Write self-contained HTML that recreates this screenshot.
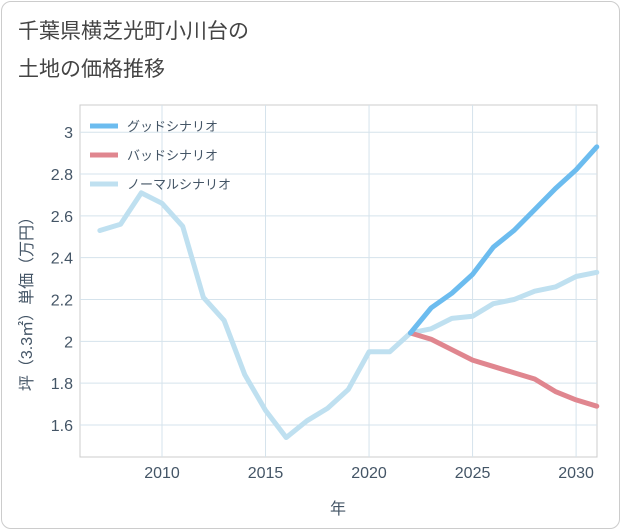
<!DOCTYPE html>
<html><head><meta charset="utf-8">
<style>
body{margin:0;background:#fff;font-family:"Liberation Sans","Noto Sans CJK JP",sans-serif;}
#card{position:absolute;left:1px;top:1px;width:617px;height:526px;border:1px solid #ccc;border-radius:10px;background:#fff;}
</style></head><body>
<div id="card"></div>
<svg id="chart" width="621" height="530" style="position:absolute;left:0;top:0">
<text x="18" y="38" font-size="21" fill="#444">千葉県横芝光町小川台の</text>
<text x="18" y="76" font-size="21" fill="#444">土地の価格推移</text>
</svg>
<script>
const years=[2007,2008,2009,2010,2011,2012,2013,2014,2015,2016,2017,2018,2019,2020,2021,2022,2023,2024,2025,2026,2027,2028,2029,2030,2031];
const normal=[2.53,2.56,2.71,2.66,2.55,2.21,2.10,1.84,1.67,1.54,1.62,1.68,1.77,1.95,1.95,2.04,2.06,2.11,2.12,2.18,2.20,2.24,2.26,2.31,2.33];
const goodYears=[2022,2023,2024,2025,2026,2027,2028,2029,2030,2031];
const good=[2.04,2.16,2.23,2.32,2.45,2.53,2.63,2.73,2.82,2.93];
const bad=[2.04,2.01,1.96,1.91,1.88,1.85,1.82,1.76,1.72,1.69];
const xTicks=[2010,2015,2020,2025,2030];
const yTicks=[1.6,1.8,2,2.2,2.4,2.6,2.8,3];
const L=80,R=597,T=105,B=457;
const x0=2006.04,x1=2031.01,y0=1.447,y1=3.13;
const X=v=>L+(v-x0)/(x1-x0)*(R-L);
const Y=v=>B-(v-y0)/(y1-y0)*(B-T);
const svg=document.getElementById('chart');const NS='http://www.w3.org/2000/svg';
function mk(t,a,p){const e=document.createElementNS(NS,t);for(const k in a)e.setAttribute(k,a[k]);(p||svg).appendChild(e);return e;}
const bg=mk('rect',{x:L,y:T,width:R-L,height:B-T,fill:'#fff',stroke:'#ccc'});


xTicks.forEach(t=>{const g=mk('line',{x1:X(t),x2:X(t),y1:T,y2:B,stroke:'#d5e3ec'});


const l=mk('text',{x:X(t),y:478,'font-size':16,fill:'#456','text-anchor':'middle'});l.textContent=t;

});
yTicks.forEach(t=>{const g=mk('line',{x1:L,x2:R,y1:Y(t),y2:Y(t),stroke:'#d5e3ec'});


const l=mk('text',{x:73,y:Y(t)+6,'font-size':16,fill:'#456','text-anchor':'end'});l.textContent=String(t);

});
function line(xs,ys,c,n){const p=mk('polyline',{points:xs.map((v,i)=>X(v)+','+Y(ys[i])).join(' '),fill:'none',stroke:c,'stroke-width':5,'stroke-linejoin':'round','stroke-linecap':'round'});

}
line(years,normal,'#bfe0f0','normal-scenario-line');
line(goodYears,bad,'#e0868f','bad-scenario-line');
line(goodYears,good,'#6cbcef','good-scenario-line');
const leg=[['グッドシナリオ','#6cbcef'],['バッドシナリオ','#e0868f'],['ノーマルシナリオ','#bfe0f0']];
leg.forEach((d,i)=>{const y=126+i*29;const g=mk('g',{});


mk('line',{x1:90,x2:118,y1:y,y2:y,stroke:d[1],'stroke-width':5},g);
const t=mk('text',{x:127,y:y+5,'font-size':13,fill:'#456'},g);t.textContent=d[0];});
const xt=mk('text',{x:338,y:514,'font-size':16,fill:'#456','text-anchor':'middle'});xt.textContent='年';


const yt=mk('text',{x:0,y:0,'font-size':16,fill:'#456','text-anchor':'middle',transform:'translate(32,300) rotate(-90)'});yt.textContent='坪（3.3㎡）単価（万円）';


</script>
</body></html>
